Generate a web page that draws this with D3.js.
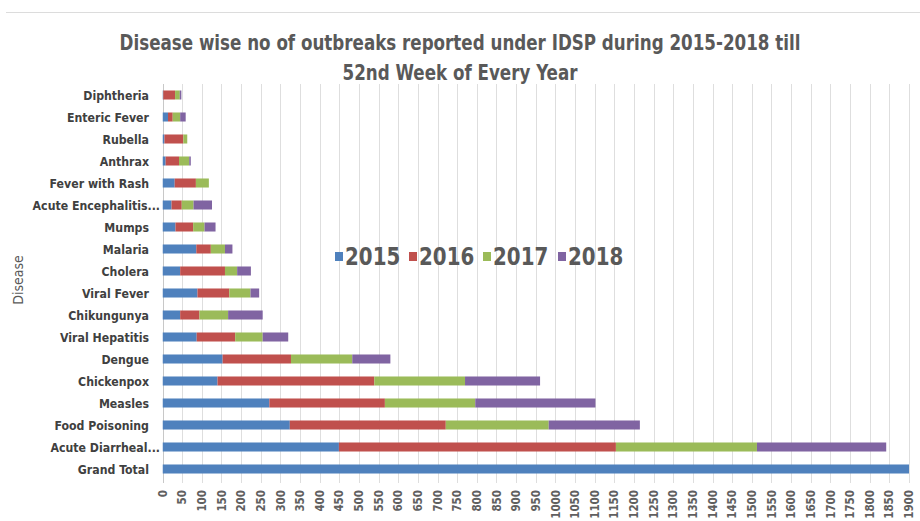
<!DOCTYPE html>
<html>
<head>
<meta charset="utf-8">
<script src="https://cdn.jsdelivr.net/npm/d3@7/dist/d3.min.js"></script>
<style>
  html, body { margin: 0; padding: 0; background: #fff; }
  svg { display: block; }
  .cond { font-family: "Liberation Sans Narrow", "DejaVu Sans Condensed", "Arial Narrow", sans-serif; }
</style>
</head>
<body>
<svg id="chart" width="920" height="521"></svg>
<script>
// Outbreak counts per disease, one array per reporting year
const categories = ["Diphtheria", "Enteric Fever", "Rubella", "Anthrax", "Fever with Rash",
  "Acute Encephalitis...", "Mumps", "Malaria", "Cholera", "Viral Fever", "Chikungunya",
  "Viral Hepatitis", "Dengue", "Chickenpox", "Measles", "Food Poisoning",
  "Acute Diarrheal...", "Grand Total"];
const years = ["2015", "2016", "2017", "2018"];
const v2015 = [2, 14, 5, 8, 31, 23, 33, 86, 45, 89, 45, 87, 153, 140, 272, 324, 449, 1900];
const v2016 = [30, 12, 48, 34, 54, 26, 45, 37, 114, 81, 49, 98, 174, 399, 294, 397, 705, 0];
const v2017 = [12, 19, 10, 26, 33, 30, 29, 36, 31, 54, 73, 70, 156, 231, 230, 262, 359, 0];
const v2018 = [4, 14, 0, 4, 0, 47, 28, 19, 35, 22, 88, 65, 97, 191, 306, 232, 329, 0];
const xTicks = d3.range(0, 1901, 50);
const titleLines = ["Disease wise no of outbreaks reported under IDSP during 2015-2018 till",
  "52nd Week of Every Year"];
const yTitle = "Disease";

const colors = ["#4F81BD", "#C0504D", "#9BBB59", "#8064A2"];
const seriesValues = [v2015, v2016, v2017, v2018];

const rows = categories.map((c, i) => {
  const r = { category: c };
  years.forEach((y, k) => { r[y] = seriesValues[k][i]; });
  return r;
});
const stacked = d3.stack().keys(years)(rows);

const svg = d3.select("#chart");

// thin separator line across the top
svg.append("line").attr("x1", 6).attr("x2", 920).attr("y1", 12.5).attr("y2", 12.5)
  .attr("stroke", "#dcdcdc").attr("stroke-width", 1);

const x = d3.scaleLinear().domain([0, 1900]).range([162.5, 909]);
const y = d3.scaleBand().domain(categories).range([84, 480])
  .paddingInner(0.59).paddingOuter(0.295);

// vertical gridlines
svg.append("g").selectAll("line").data(xTicks.slice(1)).join("line")
  .attr("x1", d => Math.round(x(d)) + 0.5).attr("x2", d => Math.round(x(d)) + 0.5)
  .attr("y1", 84).attr("y2", 483)
  .attr("stroke", "#dedede").attr("stroke-width", 1);

// category axis line
svg.append("line").attr("x1", Math.round(x(0)) + 0.5).attr("x2", Math.round(x(0)) + 0.5)
  .attr("y1", 84).attr("y2", 483).attr("stroke", "#c8c8c8");

// stacked bars, clipped to the value axis range
svg.append("clipPath").attr("id", "plotclip")
  .append("rect").attr("x", x(0)).attr("y", 80).attr("width", x(1900) - x(0)).attr("height", 410);
svg.append("g").attr("clip-path", "url(#plotclip)")
  .selectAll("g").data(stacked).join("g")
  .attr("fill", (d, i) => colors[i])
  .selectAll("rect").data(d => d).join("rect")
  .attr("x", d => x(d[0]))
  .attr("y", d => y(d.data.category))
  .attr("width", d => Math.max(0, x(d[1]) - x(d[0])))
  .attr("height", y.bandwidth());

// category labels; truncated names let their ellipsis run past the alignment edge
svg.append("g").attr("class", "cond")
  .attr("font-size", 13).attr("font-weight", "bold").attr("fill", "#404040")
  .selectAll("text").data(categories).join("text")
  .attr("transform", c => `translate(${c.endsWith("...") ? 160 : 149},${y(c) + y.bandwidth() / 2}) scale(0.94,1)`)
  .attr("dy", "0.35em").attr("text-anchor", "end")
  .text(c => c);

// value axis tick labels, rotated
svg.append("g").attr("class", "cond").attr("font-size", 11.5).attr("font-weight", 600)
  .attr("fill", "#606060")
  .selectAll("text").data(xTicks).join("text")
  .attr("transform", d => `translate(${x(d)},490) rotate(-90)`)
  .attr("text-anchor", "end").attr("dy", "0.36em")
  .text(d => d);

// axis title
svg.append("text").attr("class", "cond")
  .attr("transform", "translate(18,280) rotate(-90)")
  .attr("text-anchor", "middle").attr("dy", "0.35em")
  .attr("font-size", 14).attr("fill", "#595959").text(yTitle);

// chart title
svg.append("g").attr("class", "cond").attr("font-size", 22).attr("font-weight", "bold")
  .attr("fill", "#595959").attr("text-anchor", "middle")
  .selectAll("text").data(titleLines).join("text")
  .attr("transform", (d, i) => `translate(460,${50 + i * 30}) scale(0.845,1)`)
  .text(d => d);

// legend
const legendX = [335, 409, 483, 558];
const legend = svg.append("g").attr("class", "cond");
years.forEach((yr, i) => {
  legend.append("rect").attr("x", legendX[i]).attr("y", 252).attr("width", 8).attr("height", 9)
    .attr("fill", colors[i]);
  legend.append("text").attr("transform", `translate(${legendX[i] + 10},265) scale(0.92,1)`)
    .attr("font-size", 24).attr("font-weight", "bold").attr("fill", "#595959").text(yr);
});
</script>
</body>
</html>
